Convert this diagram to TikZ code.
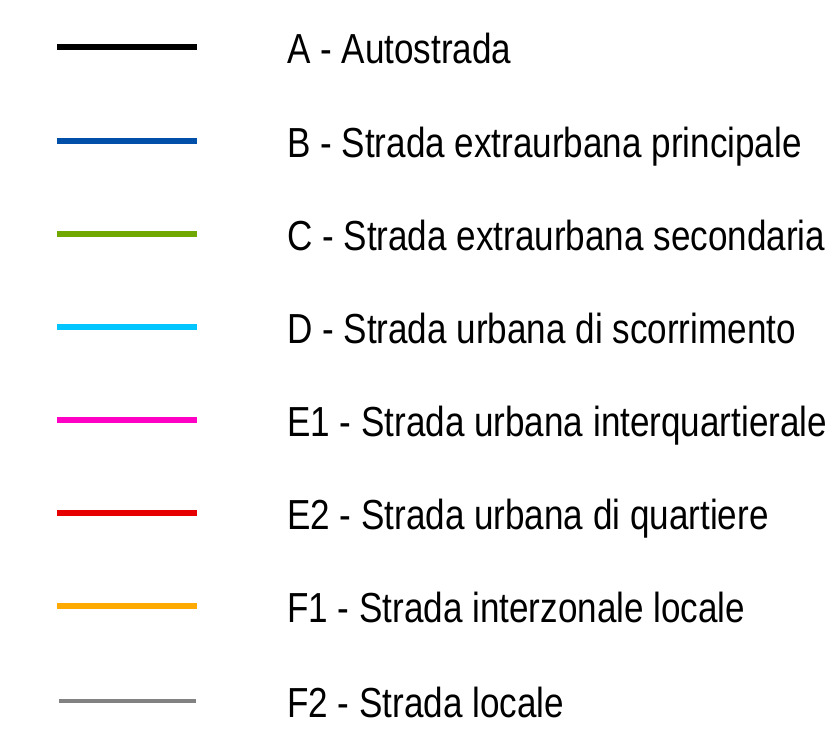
\documentclass[tikz,border=0pt]{standalone}
\usepackage{fontspec}
\setmainfont{Liberation Sans}[FakeStretch=0.835]
\definecolor{colA}{RGB}{0,0,0}
\definecolor{colB}{RGB}{0,80,170}
\definecolor{colC}{RGB}{112,168,0}
\definecolor{colD}{RGB}{0,197,255}
\definecolor{colE1}{RGB}{255,0,197}
\definecolor{colE2}{RGB}{230,0,0}
\definecolor{colF1}{RGB}{255,170,0}
\definecolor{colF2}{RGB}{130,130,130}
\tikzset{
  swatch/.style={line width=6pt},
  lab/.style={anchor=base west, inner sep=0pt, font=\fontsize{42}{48}\selectfont}
}
\begin{document}
\begin{tikzpicture}[x=1pt,y=-1pt]
\useasboundingbox (0,0) rectangle (834,728);

\foreach \i/\yy/\col/\txt in {
  A/47/colA/{A - Autostrada},
  B/141/colB/{B - Strada extraurbana principale},
  C/234/colC/{C - Strada extraurbana secondaria},
  D/327/colD/{D - Strada urbana di scorrimento},
  E1/420/colE1/{E1 - Strada urbana interquartierale},
  E2/513/colE2/{E2 - Strada urbana di quartiere},
  F1/606/colF1/{F1 - Strada interzonale locale}}
{
  \coordinate (s\i) at (57,\yy);
  \coordinate (e\i) at (197,\yy);
  \draw[swatch, \col] (s\i) -- (e\i);
  \node[lab] (l\i) at (287,\yy+16) {\txt};
}

% last one is thinner
\coordinate (sF2) at (59,701);
\coordinate (eF2) at (196,701);
\draw[line width=4pt, colF2] (sF2) -- (eF2);
\node[lab] (lF2) at (287,717) {F2 - Strada locale};
\end{tikzpicture}
\end{document}
